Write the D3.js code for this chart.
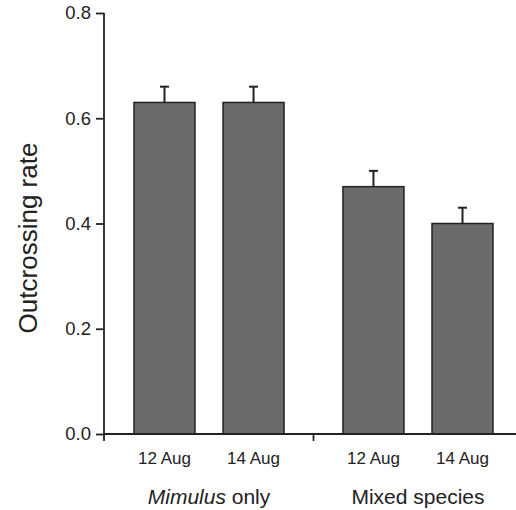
<!DOCTYPE html>
<html>
<head>
  <script src="https://cdnjs.cloudflare.com/ajax/libs/d3/7.8.5/d3.min.js"></script>
  <style>
    body { margin: 0; background: #fff; }
    text { font-family: "Liberation Sans", Arial, sans-serif; fill: #222; }
  </style>
</head>
<body>
  <script>
    // data
    var groups = ["Mimulus only", "Mixed species"];
    var dates = ["12 Aug", "14 Aug"];
    var rates = [0.63, 0.63, 0.47, 0.40];
    var errs = [0.03, 0.03, 0.03, 0.03];
    var yTicks = [0, 0.2, 0.4, 0.6, 0.8];

    var width = 516, height = 510;
    var x0 = 104, y0 = 434;

    var svg = d3.select("body").append("svg")
      .attr("width", width)
      .attr("height", height);

    var y = d3.scaleLinear().domain([0, 0.8]).range([y0, 13]);

    // group scale + date scale inside each group
    var gx = d3.scaleBand().domain(groups).range([134, 493]).paddingInner(0.282).paddingOuter(0);
    var bx = d3.scaleBand().domain(dates).range([0, gx.bandwidth()]).paddingInner(0.315).paddingOuter(0);

    var bars = [];
    groups.forEach(function(g, i) {
      dates.forEach(function(d, j) {
        bars.push({group: g, date: d, value: rates[i * 2 + j], err: errs[i * 2 + j]});
      });
    });

    var ink = "#222";
    var mid = d => gx(d.group) + bx(d.date) + bx.bandwidth() / 2;

    // bars
    var bar = svg.append("g").selectAll("g")
      .data(bars)
      .enter().append("g");

    bar.append("line")
      .attr("x1", mid).attr("x2", mid)
      .attr("y1", d => y(d.value))
      .attr("y2", d => y(d.value + d.err))
      .attr("stroke", ink).attr("stroke-width", 2);

    bar.append("line")
      .attr("x1", d => mid(d) - 4.5)
      .attr("x2", d => mid(d) + 4.5)
      .attr("y1", d => y(d.value + d.err))
      .attr("y2", d => y(d.value + d.err))
      .attr("stroke", ink).attr("stroke-width", 2);

    bar.append("rect")
      .attr("x", d => gx(d.group) + bx(d.date))
      .attr("y", d => y(d.value))
      .attr("width", bx.bandwidth())
      .attr("height", d => y0 - y(d.value))
      .attr("fill", "#6b6b6b")
      .attr("stroke", ink)
      .attr("stroke-width", 1.5);

    // y axis
    var yAxis = svg.append("g")
      .attr("transform", "translate(" + x0 + ",0)")
      .call(d3.axisLeft(y).tickValues(yTicks).tickFormat(d3.format(".1f")).tickSize(8).tickPadding(5));
    yAxis.select(".domain").remove();
    yAxis.append("line")
      .attr("y1", 13).attr("y2", 441)
      .attr("stroke", ink).attr("stroke-width", 1.8);
    yAxis.selectAll(".tick line").attr("stroke", ink).attr("stroke-width", 1.8);
    yAxis.selectAll(".tick text")
      .style("font-size", "18.5px")
      .style("font-family", "Liberation Sans, Arial, sans-serif")
      .attr("fill", ink);

    // x axis line with ticks at the left and between groups
    svg.append("line")
      .attr("x1", x0).attr("x2", width)
      .attr("y1", y0).attr("y2", y0)
      .attr("stroke", ink).attr("stroke-width", 1.8);
    var sep = (gx(groups[0]) + gx.bandwidth() + gx(groups[1])) / 2;
    svg.append("line")
      .attr("x1", sep).attr("x2", sep)
      .attr("y1", y0).attr("y2", y0 + 7)
      .attr("stroke", ink).attr("stroke-width", 1.8);

    // date labels
    svg.append("g").selectAll("text")
      .data(bars)
      .enter().append("text")
      .attr("x", mid)
      .attr("y", 464)
      .attr("text-anchor", "middle")
      .style("font-size", "17px")
      .text(d => d.date);

    // group labels
    var glab = svg.append("g").selectAll("text")
      .data(groups)
      .enter().append("text")
      .attr("x", d => gx(d) + gx.bandwidth() / 2)
      .attr("y", 504)
      .attr("text-anchor", "middle")
      .style("font-size", "21px");
    glab.filter((d, i) => i === 0).each(function(d) {
      var t = d3.select(this);
      t.append("tspan").style("font-style", "italic").text("Mimulus");
      t.append("tspan").text(" only");
    });
    glab.filter((d, i) => i === 1).text(d => d);

    // y title
    svg.append("text")
      .attr("transform", "translate(37,238) rotate(-90)")
      .attr("text-anchor", "middle")
      .style("font-size", "26px")
      .text("Outcrossing rate");
  </script>
</body>
</html>
